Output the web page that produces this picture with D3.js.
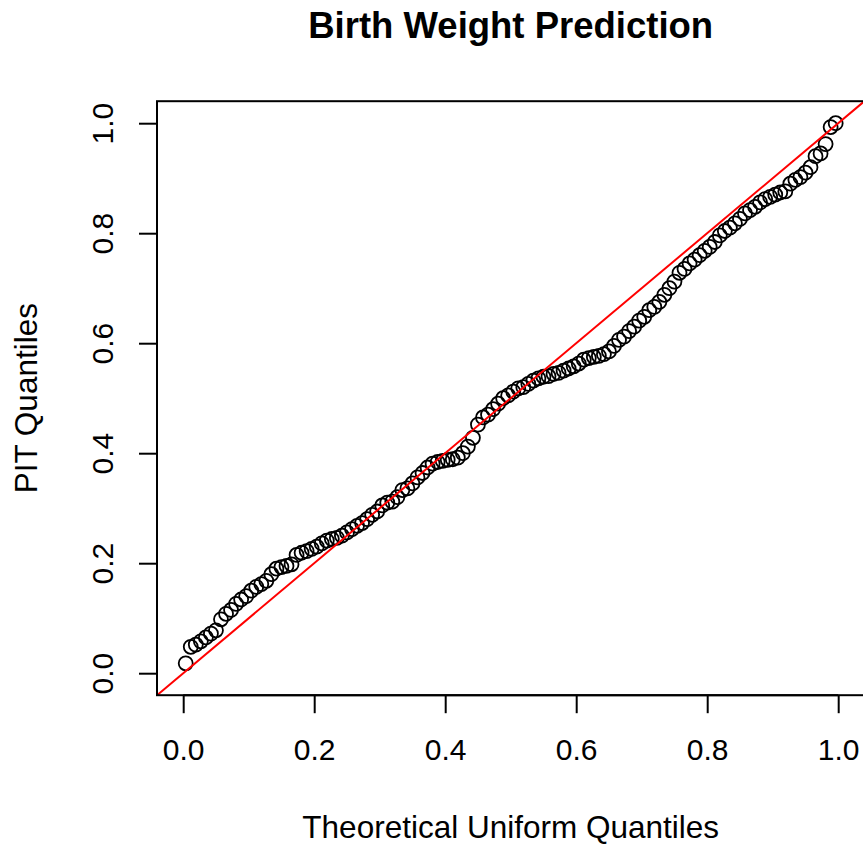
<!DOCTYPE html>
<html>
<head>
<meta charset="utf-8">
<script src="https://cdn.jsdelivr.net/npm/d3@7/dist/d3.min.js"></script>
<style>
  html, body { margin: 0; padding: 0; background: #fff; }
  svg { display: block; }
  text { font-family: "Liberation Sans", Arial, Helvetica, sans-serif; fill: #000; }
</style>
</head>
<body>
<svg id="chart" width="863" height="847"></svg>
<script>
// ---- data ----
const titleText = "Birth Weight Prediction";
const xLabel = "Theoretical Uniform Quantiles";
const yLabel = "PIT Quantiles";
const xTicks = [0.0, 0.2, 0.4, 0.6, 0.8, 1.0];
const yTicks = [0.0, 0.2, 0.4, 0.6, 0.8, 1.0];
const tickLabels = ["0.0", "0.2", "0.4", "0.6", "0.8", "1.0"];
// sorted PIT values
const pitQuantiles = [
  0.018,0.048,0.052,0.058,0.065,0.072,0.078,0.098,0.108,0.115,
  0.126,0.134,0.140,0.150,0.157,0.162,0.168,0.180,0.190,0.193,
  0.195,0.198,0.215,0.219,0.222,0.226,0.230,0.236,0.241,0.244,
  0.246,0.250,0.256,0.262,0.268,0.273,0.280,0.288,0.294,0.305,
  0.310,0.312,0.320,0.333,0.336,0.345,0.356,0.364,0.374,0.381,
  0.384,0.386,0.388,0.389,0.392,0.400,0.412,0.428,0.452,0.465,
  0.470,0.480,0.490,0.500,0.505,0.512,0.518,0.520,0.526,0.532,
  0.536,0.539,0.540,0.544,0.546,0.550,0.554,0.558,0.563,0.570,
  0.573,0.575,0.577,0.580,0.585,0.595,0.606,0.612,0.622,0.630,
  0.641,0.648,0.660,0.666,0.675,0.688,0.700,0.712,0.728,0.735,
  0.745,0.752,0.760,0.768,0.775,0.784,0.796,0.804,0.810,0.818,
  0.826,0.836,0.842,0.848,0.856,0.862,0.866,0.870,0.874,0.876,
  0.890,0.897,0.902,0.910,0.920,0.940,0.945,0.962,0.993,1.000
];
const xLim = [0, 1];
const yLim = [0, 1];

// theoretical uniform quantiles, as R's ppoints(n)
const n = pitQuantiles.length;
const theoretical = pitQuantiles.map((_, i) => (i + 1 - 0.5) / n);
const points = pitQuantiles.map((v, i) => ({ x: theoretical[i], y: v }));

// ---- layout ----
const svg = d3.select("#chart");
const plot = { left: 157, right: 864.4, top: 101.2, bottom: 695.2 };
const ext = (lim) => { const r = lim[1] - lim[0]; return [lim[0] - 0.04 * r, lim[1] + 0.04 * r]; };

const x = d3.scaleLinear().domain(ext(xLim)).range([plot.left, plot.right]);
const y = d3.scaleLinear().domain(ext(yLim)).range([plot.bottom, plot.top]);

const FS = 30;
const LABFS = 31.5;

// clip
svg.append("defs").append("clipPath").attr("id", "clip")
  .append("rect")
  .attr("x", plot.left).attr("y", plot.top)
  .attr("width", plot.right - plot.left).attr("height", plot.bottom - plot.top);

// points
svg.append("g").attr("clip-path", "url(#clip)")
  .selectAll("circle").data(points).join("circle")
  .attr("cx", d => x(d.x)).attr("cy", d => y(d.y))
  .attr("r", 7)
  .attr("fill", "none").attr("stroke", "#000").attr("stroke-width", 1.8);

// reference line y = x
const [dx0, dx1] = x.domain();
svg.append("line").attr("clip-path", "url(#clip)")
  .attr("x1", x(dx0)).attr("y1", y(dx0))
  .attr("x2", x(dx1)).attr("y2", y(dx1))
  .attr("stroke", "#ff0000").attr("stroke-width", 2);

// box
svg.append("rect")
  .attr("x", plot.left).attr("y", plot.top)
  .attr("width", plot.right - plot.left).attr("height", plot.bottom - plot.top)
  .attr("fill", "none").attr("stroke", "#000").attr("stroke-width", 2);

// x axis
const xAxis = d3.axisBottom(x).tickValues(xTicks).tickSize(18)
  .tickFormat((d, i) => tickLabels[i]);
const gx = svg.append("g").attr("transform", `translate(0,${plot.bottom})`).call(xAxis);
gx.attr("font-family", null).attr("font-size", null);
gx.select(".domain").attr("d", `M${x(xTicks[0])},0H${x(xTicks[xTicks.length - 1])}`)
  .attr("stroke", "#000").attr("stroke-width", 2);
gx.selectAll(".tick line").attr("stroke", "#000").attr("stroke-width", 2);
gx.selectAll(".tick text")
  .attr("y", 760 - plot.bottom).attr("dy", 0)
  .attr("font-size", FS).attr("fill", "#000");

// y axis
const yAxis = d3.axisLeft(y).tickValues(yTicks).tickSize(18)
  .tickFormat((d, i) => tickLabels[i]);
const gy = svg.append("g").attr("transform", `translate(${plot.left},0)`).call(yAxis);
gy.attr("font-family", null).attr("font-size", null);
gy.select(".domain").attr("d", `M0,${y(yTicks[0])}V${y(yTicks[yTicks.length - 1])}`)
  .attr("stroke", "#000").attr("stroke-width", 2);
gy.selectAll(".tick line").attr("stroke", "#000").attr("stroke-width", 2);
gy.selectAll(".tick text")
  .attr("x", null).attr("dy", 0)
  .attr("transform", `translate(${113 - plot.left},0) rotate(-90)`)
  .attr("text-anchor", "middle")
  .attr("font-size", FS).attr("fill", "#000");

// title
svg.append("text")
  .attr("x", (plot.left + plot.right) / 2).attr("y", 38)
  .attr("text-anchor", "middle").attr("font-weight", "bold").attr("font-size", 36.5)
  .text(titleText);

// axis titles
svg.append("text")
  .attr("x", (plot.left + plot.right) / 2).attr("y", 838)
  .attr("text-anchor", "middle").attr("font-size", LABFS)
  .text(xLabel);

svg.append("text")
  .attr("transform", `translate(37,${(plot.top + plot.bottom) / 2}) rotate(-90)`)
  .attr("text-anchor", "middle").attr("font-size", LABFS)
  .text(yLabel);
</script>
</body>
</html>
